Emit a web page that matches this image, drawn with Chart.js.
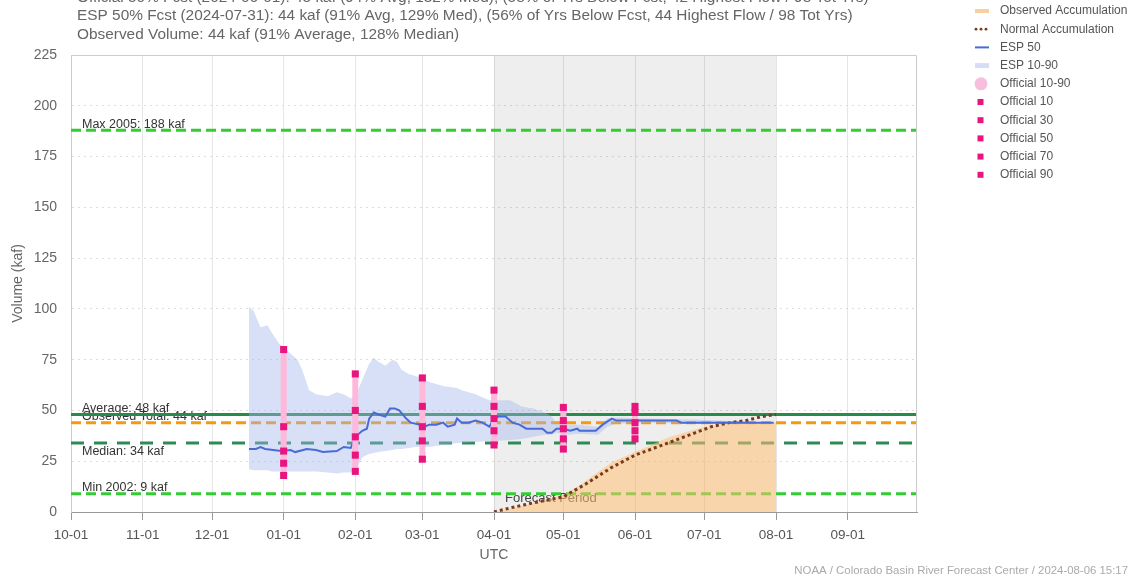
<!DOCTYPE html>
<html>
<head>
<meta charset="utf-8">
<title>Water year volume</title>
<script src="https://cdn.jsdelivr.net/npm/chart.js@4.4.1/dist/chart.umd.min.js"></script>
<style>
  html, body { margin: 0; padding: 0; background: #fff; }
  #wrap { position: relative; width: 1132px; height: 578px; }
</style>
</head>
<body>
<div id="wrap"><canvas id="chart" width="1132" height="578"></canvas></div>
<script>
// ---- Data (x = days since 2023-10-01) ----
const monthDays = [0, 31, 61, 92, 123, 152, 183, 213, 244, 274, 305, 336];
const monthLabels = ["10-01", "11-01", "12-01", "01-01", "02-01", "03-01", "04-01", "05-01", "06-01", "07-01", "08-01", "09-01"];

const titleLines = [
  "Official 50% Fcst (2024-06-01): 45 kaf (94% Avg, 132% Med), (58% of Yrs Below Fcst, 42 Highest Flow / 98 Tot Yrs)",
  "ESP 50% Fcst (2024-07-31): 44 kaf (91% Avg, 129% Med), (56% of Yrs Below Fcst, 44 Highest Flow / 98 Tot Yrs)",
  "Observed Volume: 44 kaf (91% Average, 128% Median)"
];

const refLabels = ["Max 2005: 188 kaf", "Average: 48 kaf", "Observed Total: 44 kaf", "Median: 34 kaf", "Min 2002: 9 kaf"];
const refValues = [188, 48, 44, 34, 9];

const forecastStart = 183; // 04-01
const forecastEnd = 305;   // 08-01

const bandDays = [77, 79, 82, 85, 87, 90, 92, 95, 98, 100, 103, 106, 111, 115, 118, 121, 123, 126, 129, 131,
  133, 136, 139, 141, 143, 146, 149, 152, 155, 161, 167, 169, 175, 181, 184, 190, 195, 200, 205, 208,
  210, 215, 220, 228, 232, 236, 250, 270, 290, 304];
const espHi = [101, 99, 91, 92, 88, 83, 81, 78, 75, 70, 60, 58, 57, 59, 58, 56, 57, 65, 73, 76,
  74, 72, 75, 74, 70, 68, 67, 66, 64, 62, 61, 60, 58, 55, 55, 55, 52, 51, 49, 47,
  44, 43, 43, 42, 46, 46.5, 46, 45.5, 44.5, 44];
const espLo = [21, 20.5, 20.5, 20.5, 20, 20, 20, 20, 20, 20, 20, 20, 19.5, 19, 19.5, 19.5, 20, 27, 28.5, 29,
  29.5, 30, 30.5, 31, 31, 31.5, 32, 32, 32, 33, 34, 34, 34.5, 35, 35, 35.5, 36, 37, 38, 38,
  39, 38, 38.5, 38, 42, 43.5, 44, 43.5, 43.5, 44];

const espDays = [77, 80, 82, 84, 91, 95, 97, 102, 106, 109, 115, 118, 121, 123, 126, 128, 129, 131, 133, 136,
  138, 140, 142, 145, 147, 151, 153, 155, 158, 161, 163, 166, 167, 169, 172, 175, 178, 181, 183, 185,
  188, 191, 194, 197, 200, 204, 206, 208, 210, 213, 216, 219, 220, 227, 230, 234, 236, 244, 262, 264,
  278, 304];
const espMid = [31, 31, 32, 31, 30, 30.5, 29.5, 31, 30.5, 29.5, 30, 32, 31.5, 37, 40, 41, 46, 49, 48, 47,
  51, 51, 50, 46, 44, 43, 42, 43, 43, 44, 42, 43, 46, 44, 44, 45, 44, 42, 46, 47,
  47, 44, 43, 41, 41, 41, 39, 39, 41, 41, 40, 41, 40, 40, 43, 46, 45, 45, 45, 44,
  44, 44];

const officialDays = [92, 123, 152, 183, 213, 244];
const off10 = [18, 20, 26, 33, 31, 36];
const off30 = [24, 28, 35, 40, 36, 40];
const off50 = [30, 37, 42, 46, 41, 44];
const off70 = [42, 50, 52, 52, 45, 49];
const off90 = [80, 68, 66, 60, 51.5, 52];

const normDays = [183, 190, 200, 213, 223, 234, 244, 256, 263, 270, 277, 285, 292, 299, 305];
const normVals = [0, 2, 4.5, 7.5, 14, 22, 28, 33, 36, 39, 42, 44, 45, 47, 48];

const obsDays = [183, 190, 197, 204, 213, 220, 227, 234, 244, 251, 258, 265, 274, 281, 288, 295, 305];
const obsVals = [0, 1.5, 3.5, 5.5, 8.5, 13, 19, 24.5, 29.5, 33, 36.5, 39, 42, 43, 43.8, 44, 44];

const legendLabels = ["Observed Accumulation", "Normal Accumulation", "ESP 50", "ESP 10-90", "Official 10-90",
  "Official 10", "Official 30", "Official 50", "Official 70", "Official 90"];

// ---- Helpers ----
const FONT = '"Liberation Sans", Arial, sans-serif';
const pts = (xs, ys) => xs.map((x, i) => ({ x, y: ys[i] }));
const lineDs = (extra) => Object.assign({ type: "line", pointRadius: 0, tension: 0, fill: false, borderWidth: 2 }, extra);

const refStyles = [
  { color: "#33cc33", dash: [10, 5] },
  { color: "#2a8a4a", dash: [] },
  { color: "#f59a10", dash: [10, 5] },
  { color: "#2e8b57", dash: [13, 10] },
  { color: "#33cc33", dash: [10, 5] }
];

const datasets = [];

// official markers on top
[off10, off30, off50, off70, off90].forEach((vals, i) => {
  datasets.push(lineDs({
    label: "Official " + [10, 30, 50, 70, 90][i],
    data: pts(officialDays, vals),
    showLine: false,
    pointStyle: "rect",
    pointRadius: 5,
    pointBorderWidth: 0,
    pointBackgroundColor: "#e8157f",
    order: 0
  }));
});

// official 10-90 range bars
datasets.push(lineDs({
  label: "Official 10-90",
  data: officialDays.flatMap((d, i) => [{ x: d, y: off10[i] }, { x: d, y: off90[i] }, { x: d, y: null }]),
  borderColor: "#ffb8da",
  borderWidth: 6,
  borderCapStyle: "butt",
  spanGaps: false,
  order: 1
}));

datasets.push(lineDs({
  label: "ESP 50",
  data: pts(espDays, espMid),
  borderColor: "#4a6ad6",
  borderWidth: 2,
  order: 2
}));

datasets.push(lineDs({
  label: "Normal Accumulation",
  data: pts(normDays, normVals),
  borderColor: "#7a3a1c",
  borderWidth: 3,
  borderDash: [3, 3],
  order: 3
}));

datasets.push(lineDs({
  label: "ESP 10-90",
  data: pts(bandDays, espHi),
  borderWidth: 0,
  borderColor: "rgba(0,0,0,0)",
  backgroundColor: "rgba(160,180,235,0.42)",
  fill: "+1",
  order: 4
}));
datasets.push(lineDs({
  label: "ESP 10",
  data: pts(bandDays, espLo),
  borderWidth: 0,
  borderColor: "rgba(0,0,0,0)",
  order: 4
}));

datasets.push(lineDs({
  label: "Observed Accumulation",
  data: pts(obsDays, obsVals),
  borderWidth: 0,
  borderColor: "rgba(0,0,0,0)",
  backgroundColor: "rgba(255,191,115,0.55)",
  fill: "origin",
  order: 5
}));

refValues.forEach((v, i) => {
  datasets.push(lineDs({
    label: refLabels[i],
    data: [{ x: 0, y: v }, { x: 366, y: v }],
    borderColor: refStyles[i].color,
    borderDash: refStyles[i].dash,
    borderWidth: 3,
    order: 10
  }));
});

// ---- Decorations: forecast shading, line labels, title, legend, footer ----
const decor = {
  id: "decor",
  beforeDatasetsDraw(chart) {
    const { ctx, chartArea: a, scales: { x, y } } = chart;
    ctx.save();
    const x0 = x.getPixelForValue(forecastStart);
    const x1 = x.getPixelForValue(forecastEnd);
    ctx.fillStyle = "rgba(0,0,0,0.065)";
    ctx.fillRect(x0, a.top, x1 - x0, a.bottom - a.top);

    ctx.font = "12.5px " + FONT;
    ctx.fillStyle = "#333";
    refValues.forEach((v, i) => {
      const py = y.getPixelForValue(v);
      const below = i === 3;
      ctx.fillText(refLabels[i], a.left + 11, below ? py + 12.5 : py - 2.5);
    });
    ctx.font = "13px " + FONT;
    ctx.fillStyle = "#444";
    ctx.fillText("Forecast Period", x0 + 11, y.getPixelForValue(0) - 10);
    ctx.restore();
  },
  afterDraw(chart) {
    const { ctx, chartArea: a } = chart;
    ctx.save();
    // frame top/right
    ctx.strokeStyle = "#cccccc";
    ctx.lineWidth = 1;
    ctx.beginPath();
    ctx.moveTo(a.left, a.top + 0.5);
    ctx.lineTo(a.right - 0.5, a.top + 0.5);
    ctx.lineTo(a.right - 0.5, a.bottom);
    ctx.stroke();

    // title
    ctx.font = "15.4px " + FONT;
    ctx.fillStyle = "#666";
    const baselines = [2, 20, 39];
    titleLines.forEach((t, i) => ctx.fillText(t, 77, baselines[i]));

    // legend
    ctx.font = "12px " + FONT;
    ctx.textBaseline = "middle";
    legendLabels.forEach((t, i) => {
      const cy = 11 + 18.2 * i;
      drawSwatch(ctx, i, cy);
      ctx.fillStyle = "#555";
      ctx.fillText(t, 1000, cy);
    });

    // footer
    ctx.font = "11.4px " + FONT;
    ctx.fillStyle = "#aaa";
    ctx.textAlign = "right";
    ctx.fillText("NOAA / Colorado Basin River Forecast Center / 2024-08-06 15:17", 1128, 571);
    ctx.restore();
  }
};

function drawSwatch(ctx, i, cy) {
  ctx.save();
  if (i === 0 || i === 2 || i === 3) {
    ctx.strokeStyle = ["#f9cf9e", null, "#4a6ad6", "#d6def5"][i];
    ctx.lineWidth = [4, 0, 2, 5][i];
    ctx.beginPath();
    ctx.moveTo(975, cy);
    ctx.lineTo(989, cy);
    ctx.stroke();
  } else if (i === 1) {
    ctx.fillStyle = "#7a3a1c";
    [976, 981, 986].forEach((dx) => { ctx.beginPath(); ctx.arc(dx, cy, 1.4, 0, Math.PI * 2); ctx.fill(); });
  } else if (i === 4) {
    ctx.fillStyle = "#f8bfdc";
    ctx.beginPath();
    ctx.arc(981, cy, 6.5, 0, Math.PI * 2);
    ctx.fill();
  } else {
    ctx.fillStyle = "#e8157f";
    ctx.fillRect(977.5, cy - 3, 6, 6);
  }
  ctx.restore();
}

new Chart(document.getElementById("chart"), {
  type: "line",
  data: { datasets },
  options: {
    responsive: false,
    animation: false,
    events: [],
    layout: { padding: { left: 0, top: 55, right: 215, bottom: 0 } },
    plugins: { legend: { display: false }, title: { display: false }, tooltip: { enabled: false } },
    scales: {
      x: {
        type: "linear",
        min: 0,
        max: 366,
        offset: false,
        afterFit(scale) { scale.height = 66; },
        afterBuildTicks(scale) { scale.ticks = monthDays.map((v) => ({ value: v })); },
        ticks: {
          autoSkip: false,
          maxRotation: 0,
          padding: 7,
          color: "#555",
          font: { family: FONT, size: 13.5 },
          callback: (v) => monthLabels[monthDays.indexOf(v)] ?? ""
        },
        grid: { color: "#e6e6e6", tickColor: "#999", tickLength: 8 },
        border: { color: "#999" },
        title: { display: true, text: "UTC", color: "#666", font: { family: FONT, size: 14 }, padding: { top: 0, bottom: 14 } }
      },
      y: {
        min: 0,
        max: 225,
        afterFit(scale) { scale.width = 71; },
        ticks: { stepSize: 25, padding: 14, color: "#666", font: { family: FONT, size: 14 } },
        grid: { color: "#dddddd", drawTicks: false },
        border: { color: "#cccccc", dash: [2, 4] },
        title: { display: true, text: "Volume (kaf)", color: "#666", font: { family: FONT, size: 14 }, padding: { top: 10, bottom: 0 } }
      }
    }
  },
  plugins: [decor]
});
</script>
</body>
</html>
